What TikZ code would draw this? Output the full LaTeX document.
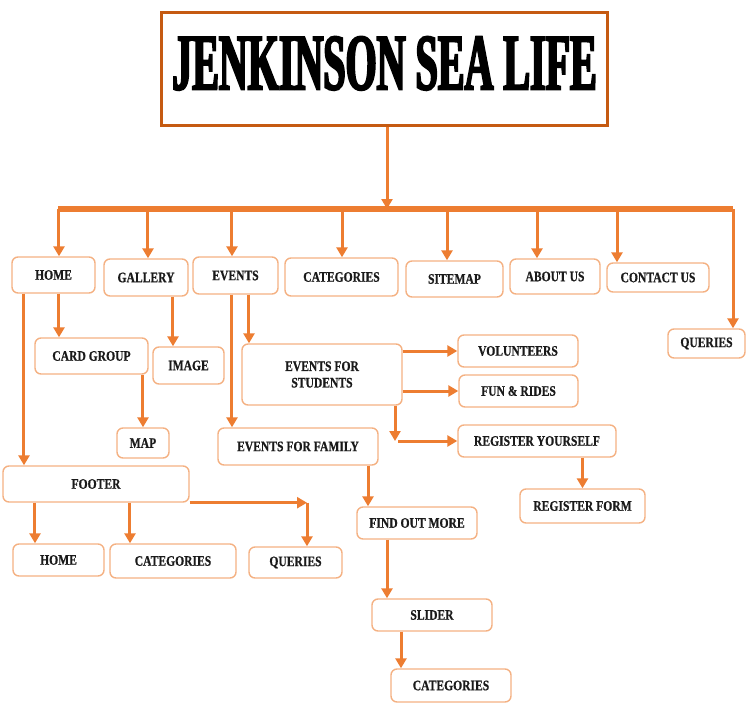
\documentclass[tikz,border=0pt]{standalone}
\usepackage{fontspec}
\setmainfont{Liberation Serif}
\newfontfamily\boxfont[FakeStretch=0.8, FakeBold=0.6]{Liberation Serif}
\newfontfamily\titlefont[FakeStretch=0.5, FakeBold=2.5]{Liberation Serif}
\usetikzlibrary{arrows.meta, positioning}
\definecolor{linkorange}{HTML}{ED7D31}
\definecolor{boxorange}{HTML}{F4B183}
\definecolor{titleorange}{HTML}{C55A11}
\definecolor{boxtext}{HTML}{1A1A1A}

\begin{document}
\begin{tikzpicture}[
    x=1pt, y=1pt, node distance=40pt,
    page/.style={draw=boxorange, line width=1.4pt, rounded corners=6pt, text=boxtext, align=center, inner sep=1pt, font=\boxfont\bfseries\fontsize{14.5}{16.5}\selectfont},
    sz/.style 2 args={minimum width=#1pt, minimum height=#2pt},
    link/.style={linkorange, line width=3pt, -{Triangle[length=10pt, width=11pt]}},
    bus/.style={linkorange, line width=6pt}
]
\useasboundingbox (-384.5,69.5) rectangle (361.5,-639.5);

\node (title) [draw=titleorange, line width=3pt, minimum width=445pt, minimum height=113pt, text depth=13pt, font=\titlefont\bfseries\fontsize{80}{80}\selectfont] {JENKINSON SEA LIFE};

\node (home) [page, sz={83}{36}, below of=title, xshift=-331pt, yshift=-165.5pt] {HOME};
\node (gallery) [page, sz={84}{37}, right of=home, xshift=52.5pt, yshift=-2.5pt] {GALLERY};
\node (events) [page, sz={85}{37}, right of=gallery, xshift=49.5pt, yshift=2pt] {EVENTS};
\node (categories) [page, sz={113}{38}, right of=events, xshift=66pt, yshift=-1.5pt] {CATEGORIES};
\node (sitemap) [page, sz={97}{36}, right of=categories, xshift=73pt, yshift=-2pt] {SITEMAP};
\node (about_us) [page, sz={90}{35}, right of=sitemap, xshift=60.5pt, yshift=2.5pt] {ABOUT US};
\node (contact_us) [page, sz={102}{29}, right of=about_us, xshift=63pt, yshift=-1pt] {CONTACT US};
\node (queries) [page, sz={77}{29}, below of=contact_us, xshift=48.5pt, yshift=-26pt] {QUERIES};

\node (card_group) [page, sz={113}{36}, below of=home, xshift=38pt, yshift=-41pt] {CARD GROUP};
\node (gallery_image) [page, sz={71}{37}, below of=gallery, xshift=42.5pt, yshift=-48pt] {IMAGE};
\node (card_group_map) [page, sz={52}{30}, below of=card_group, xshift=51.5pt, yshift=-47pt] {MAP};

\node (events_students) [page, sz={160}{61}, below of=events, xshift=86.5pt, yshift=-59pt] {EVENTS FOR\\STUDENTS};
\node (students_volunteers) [page, sz={120}{32}, right of=events_students, xshift=156pt, yshift=23.5pt] {VOLUNTEERS};
\node (students_fun_rides) [page, sz={119}{32}, right of=events_students, xshift=156.5pt, yshift=-16.5pt] {FUN \& RIDES};
\node (students_register) [page, sz={158}{32}, right of=events_students, xshift=175pt, yshift=-66.5pt] {REGISTER YOURSELF};
\node (register_form) [page, sz={125}{34}, below of=students_register, xshift=45.5pt, yshift=-25pt] {REGISTER FORM};

\node (events_family) [page, sz={160}{37}, below of=events, xshift=62.5pt, yshift=-131pt] {EVENTS FOR FAMILY};
\node (family_find_out) [page, sz={120}{32}, below of=events_family, xshift=119pt, yshift=-36.5pt] {FIND OUT MORE};
\node (family_slider) [page, sz={120}{32}, below of=family_find_out, xshift=15pt, yshift=-52pt] {SLIDER};
\node (slider_categories) [page, sz={120}{33}, below of=family_slider, xshift=19pt, yshift=-30.5pt] {CATEGORIES};

\node (footer) [page, sz={186}{36}, below of=home, xshift=42.5pt, yshift=-169pt] {FOOTER};
\node (footer_home) [page, sz={91}{32}, below of=footer, xshift=-37.5pt, yshift=-36pt] {HOME};
\node (footer_categories) [page, sz={126}{34}, right of=footer_home, xshift=74.5pt, yshift=-1pt] {CATEGORIES};
\node (footer_queries) [page, sz={93}{31}, right of=footer_categories, xshift=82.5pt, yshift=-1.5pt] {QUERIES};

\coordinate (bus_left) at (-326.5,-139.5);
\coordinate (bus_right) at (348.5,-139.5);
\coordinate (register_turn) at ([xshift=73pt]events_students.south |- students_register.west);
\coordinate (queries_turn) at ([xshift=11.5pt]footer_queries.north |- footer.south);

\draw[bus] (bus_left) -- (bus_right);
\draw[link] ([xshift=2.5pt]title.south) -- ([xshift=2.5pt]title.south |- bus_left);
\draw[link] ([xshift=5.5pt]home.north |- bus_left) -- ([xshift=5.5pt]home.north);
\draw[link] ([xshift=2pt]gallery.north |- bus_left) -- ([xshift=2pt]gallery.north);
\draw[link] ([xshift=-3.5pt]events.north |- bus_left) -- ([xshift=-3.5pt]events.north);
\draw[link] ([xshift=0.5pt]categories.north |- bus_left) -- ([xshift=0.5pt]categories.north);
\draw[link] ([xshift=-7.5pt]sitemap.north |- bus_left) -- ([xshift=-7.5pt]sitemap.north);
\draw[link] ([xshift=-18pt]about_us.north |- bus_left) -- ([xshift=-18pt]about_us.north);
\draw[link] ([xshift=-41pt]contact_us.north |- bus_left) -- ([xshift=-41pt]contact_us.north);
\draw[link] (bus_right) -- (bus_right |- queries.north);

\draw[link] ([xshift=5.5pt]home.south) -- ([xshift=5.5pt]home.south |- card_group.north);
\draw[link] ([xshift=-29.5pt]home.south) -- ([xshift=-29.5pt]home.south |- footer.north);
\draw[link] ([xshift=27pt]gallery.south) -- ([xshift=27pt]gallery.south |- gallery_image.north);
\draw[link] (card_group_map.north |- card_group.south) -- (card_group_map.north);

\draw[link] ([xshift=13.5pt]events.south) -- ([xshift=13.5pt]events.south |- events_students.north);
\draw[link] ([xshift=-3.5pt]events.south) -- ([xshift=-3.5pt]events.south |- events_family.north);
\draw[link] (events_students.east |- students_volunteers) -- (students_volunteers.west);
\draw[link] (events_students.east |- students_fun_rides) -- (students_fun_rides.west);
\draw[link] ([xshift=73pt]events_students.south) -- (register_turn);
\draw[link] ([xshift=3pt]register_turn) -- (students_register.west);
\draw[link] (register_form.north |- students_register.south) -- (register_form.north);

\draw[link] ([xshift=70pt]events_family.south) -- ([xshift=70pt]events_family.south |- family_find_out.north);
\draw[link] ([xshift=-30pt]family_find_out.south) -- ([xshift=-30pt]family_find_out.south |- family_slider.north);
\draw[link] ([xshift=-31pt]family_slider.south) -- ([xshift=-31pt]family_slider.south |- slider_categories.north);

\draw[link] ([xshift=-23.5pt]footer_home.north |- footer.south) -- ([xshift=-23.5pt]footer_home.north);
\draw[link] ([xshift=-43pt]footer_categories.north |- footer.south) -- ([xshift=-43pt]footer_categories.north);
\draw[link] (footer.south east) -- (queries_turn);
\draw[link] (queries_turn) -- ([xshift=11.5pt]footer_queries.north);
\end{tikzpicture}
\end{document}
